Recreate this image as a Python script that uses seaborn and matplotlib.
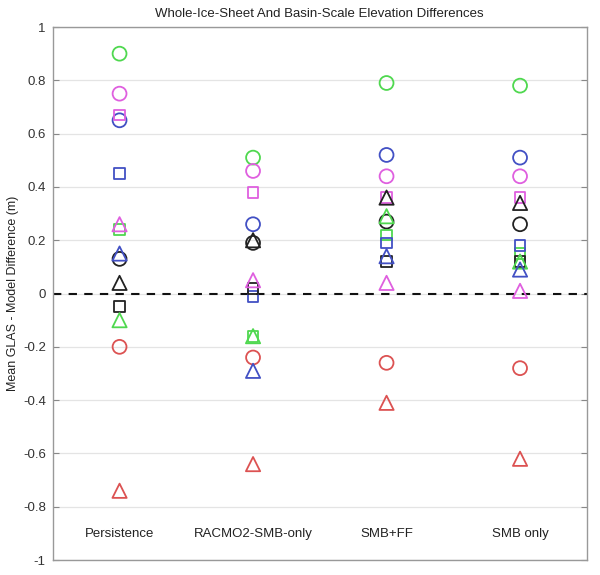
import pandas as pd
import seaborn as sns
import matplotlib.pyplot as plt

methods = ["Persistence", "RACMO2-SMB-only", "SMB+FF", "SMB only"]

# one list per colour/marker combination, one value per method
green_circle = [0.90, 0.51, 0.79, 0.78]
green_square = [0.24, -0.16, 0.22, 0.15]
green_triangle = [-0.10, -0.16, 0.29, 0.12]
magenta_circle = [0.75, 0.46, 0.44, 0.44]
magenta_square = [0.67, 0.38, 0.36, 0.36]
magenta_triangle = [0.26, 0.05, 0.04, 0.01]
blue_circle = [0.65, 0.26, 0.52, 0.51]
blue_square = [0.45, -0.01, 0.19, 0.18]
blue_triangle = [0.15, -0.29, 0.14, 0.09]
black_circle = [0.13, 0.19, 0.27, 0.26]
black_square = [-0.05, 0.02, 0.12, 0.12]
black_triangle = [0.04, 0.20, 0.36, 0.34]
red_circle = [-0.20, -0.24, -0.26, -0.28]
red_triangle = [-0.74, -0.64, -0.41, -0.62]

series = {
    ("green", "o"): green_circle, ("green", "s"): green_square, ("green", "^"): green_triangle,
    ("magenta", "o"): magenta_circle, ("magenta", "s"): magenta_square, ("magenta", "^"): magenta_triangle,
    ("blue", "o"): blue_circle, ("blue", "s"): blue_square, ("blue", "^"): blue_triangle,
    ("black", "o"): black_circle, ("black", "s"): black_square, ("black", "^"): black_triangle,
    ("red", "o"): red_circle, ("red", "^"): red_triangle,
}

rows = []
for (col, mk), vals in series.items():
    for i, v in enumerate(vals):
        rows.append({"x": i, "value": v, "color": col, "marker": mk})
df = pd.DataFrame(rows)

palette = {"green": "#4fd84f", "magenta": "#df5fdf", "blue": "#4250c4",
           "black": "#222222", "red": "#dc5252"}
sizes = {"o": 100, "s": 60, "^": 105}

plt.rcParams["font.family"] = ["Liberation Sans", "DejaVu Sans"]
fig = plt.figure(figsize=(6, 5.75), dpi=100)
ax = fig.add_axes([0.088, 0.026, 0.89, 0.927])

ax.axhline(0, color="#111111", lw=1.5, ls=(0, (4, 3.5)), zorder=1)
for mk in ["o", "s", "^"]:
    sub = df[df["marker"] == mk]
    sns.scatterplot(data=sub, x="x", y="value", hue="color", palette=palette,
                    marker=mk, s=sizes[mk], linewidth=1.3, legend=False, ax=ax, zorder=3)
    pc = ax.collections[-1]
    fc = pc.get_facecolors()
    pc.set_edgecolors(fc)
    pc.set_facecolors("none")

ax.set_xlim(-0.5, 3.5)
ax.set_ylim(-1, 1)
ax.set_yticks([1, 0.8, 0.6, 0.4, 0.2, 0, -0.2, -0.4, -0.6, -0.8, -1])
ax.set_yticklabels(["1", "0.8", "0.6", "0.4", "0.2", "0", "-0.2", "-0.4", "-0.6", "-0.8", "-1"])
ax.set_xticks(range(len(methods)))
ax.set_xticklabels(methods)
ax.grid(axis="y", color="#e4e4e4", lw=0.9, zorder=0)
ax.set_axisbelow(True)
ax.tick_params(axis="x", length=0, pad=-23, labelsize=9.5, labelcolor="#222222")
ax.tick_params(axis="y", direction="in", length=4, color="#888888", right=True,
               labelsize=9.5, labelcolor="#333333", pad=5)
for sp in ax.spines.values():
    sp.set_color("#999999")
    sp.set_linewidth(1.0)

ax.set_xlabel("")
ax.set_ylabel("Mean GLAS - Model Difference (m)", fontsize=9, color="#222222", labelpad=3)
ax.set_title("Whole-Ice-Sheet And Basin-Scale Elevation Differences", fontsize=9.5,
             color="#222222", pad=7)

fig.savefig("out.png", dpi=100)
